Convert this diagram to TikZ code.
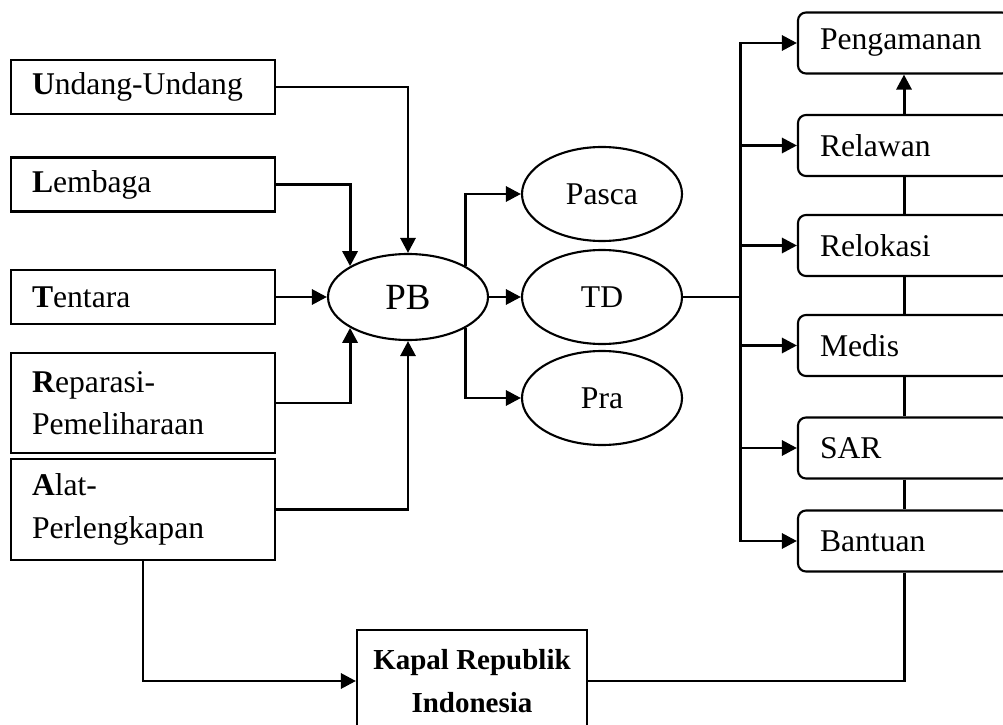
\documentclass[tikz,border=0pt]{standalone}
\usepackage{fontspec}
\setmainfont{Liberation Serif}
\usetikzlibrary{arrows.meta,shapes.geometric}

\begin{document}
\begin{tikzpicture}[
  font=\fontsize{18}{24}\selectfont,
  leftbox/.style={draw, line width=1.2pt, minimum height=1.08cm, text width=4.44cm, inner xsep=0.42cm, align=left},
  rightbox/.style={draw, line width=1.2pt, rounded corners=0.16cm, minimum height=1.22cm, text width=3.36cm, inner xsep=0.44cm, align=left},
  oval/.style={draw, line width=1.2pt, ellipse, minimum width=3.2cm, minimum height=1.88cm, inner sep=0pt},
  kribox/.style={draw, line width=1.2pt, minimum width=4.6cm, minimum height=2.04cm, align=center, font=\bfseries\fontsize{16.5}{24.5}\selectfont},
  arr/.style={line width=1.7pt, -{Triangle[length=0.3cm,width=0.3cm]}},
  link/.style={line width=1.7pt}
]
\useasboundingbox (0,0) rectangle (20.06,14.48);

% Left column
\node[leftbox] (undang) at (2.86,12.74) {\textbf{U}ndang-Undang};
\node[leftbox] (lembaga) at (2.86,10.79) {\textbf{L}embaga};
\node[leftbox] (tentara) at (2.86,8.54) {\textbf{T}entara};
\node[leftbox, minimum height=2cm] (reparasi) at (2.86,6.42) {\textbf{R}eparasi-\\Pemeliharaan};
\node[leftbox, minimum height=2.02cm] (alat) at (2.86,4.29) {\textbf{A}lat-\\Perlengkapan};

% Phases
\node[oval, minimum height=1.72cm, font=\fontsize{21}{24}\selectfont] (pb) at (8.16,8.54) {PB};
\node[oval] (pasca) at (12.04,10.6) {Pasca};
\node[oval] (td) at (12.04,8.54) {TD};
\node[oval] (pra) at (12.04,6.52) {Pra};

% Right column
\node[rightbox] (pengamanan) at (18.08,13.62) {Pengamanan};
\node[rightbox] (relawan) at (18.08,11.57) {Relawan};
\node[rightbox] (relokasi) at (18.08,9.57) {Relokasi};
\node[rightbox] (medis) at (18.08,7.57) {Medis};
\node[rightbox] (sar) at (18.08,5.52) {SAR};
\node[rightbox] (bantuan) at (18.08,3.66) {Bantuan};

% Ship
\node[kribox] (kri) at (9.44,0.86) {Kapal Republik\\Indonesia};
\coordinate (bus) at (14.8,8.54);

% Arrows into PB
\draw[arr] (undang.east) -| (pb.north);
\draw[arr] (lembaga.east) -| (pb.152);
\draw[arr] (tentara) -- (pb);
\draw[arr] (reparasi.east) -| (pb.208);
\draw[arr] (alat.east) -| (pb.south);

% Arrows out of PB
\draw[arr] (pb.28) |- (pasca);
\draw[arr] (pb) -- (td);
\draw[arr] (pb.-28) |- (pra);

% Bus to the right column
\draw[link] (td) -- (bus);
\draw[arr] (bus) |- (pengamanan);
\draw[arr] (bus) |- (relawan);
\draw[arr] (bus) |- (relokasi);
\draw[arr] (bus) |- (medis);
\draw[arr] (bus) |- (sar);
\draw[arr] (bus) |- (bantuan);

% Chain on the right
\draw[arr] (relawan) -- (pengamanan);
\draw[link] (relawan) -- (relokasi);
\draw[link] (relokasi) -- (medis);
\draw[link] (medis) -- (sar);
\draw[link] (sar) -- (bantuan);

% Loop through the ship
\draw[arr] (alat.south) |- (kri);
\draw[link] (bantuan.south) |- (kri);
\end{tikzpicture}
\end{document}
